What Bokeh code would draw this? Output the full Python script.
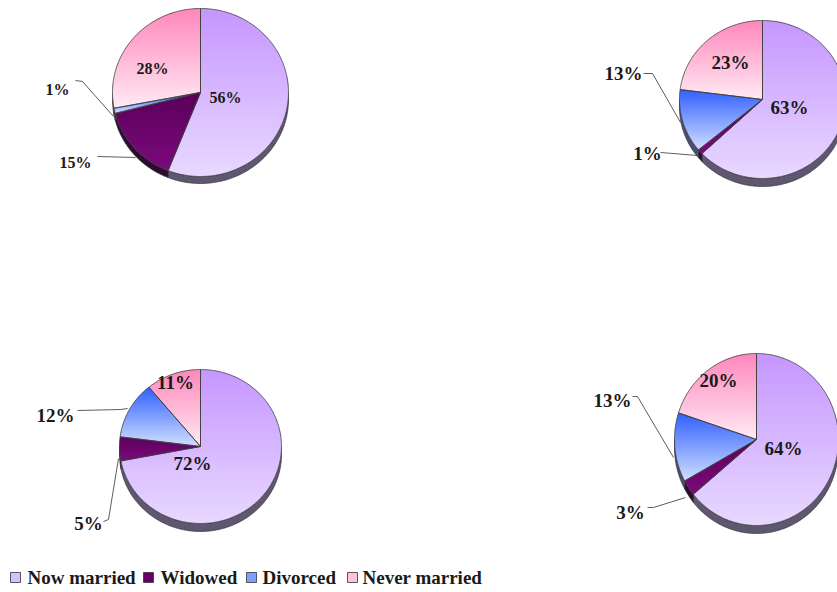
import numpy as np
from bokeh.plotting import figure
from bokeh.models import Range1d, ColumnDataSource
from bokeh.embed import file_html
from bokeh.resources import INLINE
from bokeh.core.properties import value

# ---------------- data ----------------
categories = ["Now married", "Widowed", "Divorced", "Never married"]
pie_top_left = [56, 15, 1, 28]
pie_top_right = [63, 1, 13, 23]
pie_bottom_left = [72, 5, 12, 11]
pie_bottom_right = [64, 3, 13, 20]

# ---------------- styles ----------------
top_colors = ["#c596ff", "#5a005a", "#2f5fff", "#ff86bb"]
bottom_colors = ["#e8d8ff", "#7c0a7c", "#d0deff", "#ffeaf3"]
side_colors = ["#5f5670", "#2d0a30", "#4a4f6e", "#6b5566"]
legend_colors = ["#d8c0ff", "#660066", "#7f9fff", "#ffc2dc"]
FONT = "Liberation Serif"
TXT = "#1a1a1a"

W, H = 837, 592


def X(ix):
    return ix


def Y(iy):
    return H - iy


# layout of each pie (image pixel coords), label placement per slice
pies = [
    dict(vals=pie_top_left, cx=200, cy=92, rx=88, ry=84, d=7, fs=16,
         labels=[((225, 97), None),
                 ((75, 162), [(97, 156), (135, 157)]),
                 ((57, 89), [(75, 80), (82, 81), (113, 116)]),
                 ((152, 68), None)]),
    dict(vals=pie_top_right, cx=762, cy=99, rx=83, ry=79, d=8, fs=19,
         labels=[((789, 107), None),
                 ((647, 153), [(660, 152), (697, 155)]),
                 ((623, 73), [(643, 73), (652, 73), (680, 122)]),
                 ((730, 62), None)]),
    dict(vals=pie_bottom_left, cx=200, cy=446, rx=81, ry=77, d=8, fs=19,
         labels=[((192, 463), None),
                 ((88, 523), [(103, 521), (108, 519), (118, 458)]),
                 ((55, 415), [(77, 410), (120, 409), (127, 408)]),
                 ((175, 382), None)]),
    dict(vals=pie_bottom_right, cx=756, cy=439, rx=82, ry=86, d=8, fs=19,
         labels=[((783, 448), None),
                 ((630, 512), [(647, 507), (653, 507), (685, 497)]),
                 ((612, 400), [(632, 396), (637, 396), (673, 457)]),
                 ((718, 380), None)]),
]


def hex2rgb(c):
    return [int(c[i:i + 2], 16) for i in (1, 3, 5)]


def lerp_color(c0, c1, t):
    a, b = hex2rgb(c0), hex2rgb(c1)
    return "#%02x%02x%02x" % tuple(int(round(a[k] + (b[k] - a[k]) * t)) for k in range(3))


def clip_half(poly, y0, keep_above):
    out = []
    n = len(poly)
    for i in range(n):
        P = poly[i]
        Q = poly[(i + 1) % n]
        pin = P[1] >= y0 if keep_above else P[1] <= y0
        qin = Q[1] >= y0 if keep_above else Q[1] <= y0
        if pin:
            out.append(P)
        if pin != qin:
            t = (y0 - P[1]) / (Q[1] - P[1])
            out.append((P[0] + t * (Q[0] - P[0]), y0))
    return out


p = figure(width=W, height=H, x_range=Range1d(0, W), y_range=Range1d(0, H),
           output_backend="svg", toolbar_location=None, min_border=0)
p.axis.visible = False
p.grid.visible = False
p.outline_line_color = None
p.background_fill_color = "white"
p.border_fill_color = "white"

side = dict(xs=[], ys=[], c=[])
band = dict(xs=[], ys=[], c=[])
edge = dict(xs=[], ys=[])
lead = dict(xs=[], ys=[])
txt = dict(x=[], y=[], t=[], fs=[])

for pie in pies:
    cx, cy = X(pie["cx"]), Y(pie["cy"])
    rx, ry, d = pie["rx"], pie["ry"], pie["d"]
    vals = np.array(pie["vals"], dtype=float)
    fr = vals / vals.sum()
    ends = np.pi / 2 - 2 * np.pi * np.cumsum(fr)
    starts = np.concatenate([[np.pi / 2], ends[:-1]])
    for k in range(len(vals)):
        a0, a1 = starts[k], ends[k]
        # side (front half: angles in [-pi, 0])
        hi, lo = min(a0, 0.0), max(a1, -np.pi)
        if hi > lo:
            aa = np.linspace(hi, lo, max(4, int((hi - lo) * 60)))
            sx = cx + rx * np.cos(aa)
            sy = cy + ry * np.sin(aa)
            side["xs"].append(list(sx) + list(sx[::-1]))
            side["ys"].append(list(sy) + list((sy - d)[::-1]))
            side["c"].append(side_colors[k])
        # top face wedge polygon
        aa = np.linspace(a0, a1, max(4, int((a0 - a1) * 80)))
        px = np.concatenate([[cx], cx + rx * np.cos(aa)])
        py = np.concatenate([[cy], cy + ry * np.sin(aa)])
        poly = list(zip(px, py))
        edge["xs"].append(list(px) + [cx])
        edge["ys"].append(list(py) + [cy])
        ymax, ymin = py.max(), py.min()
        nb = max(2, int((ymax - ymin) / 2.5))
        h = (ymax - ymin) / nb
        for b in range(nb):
            yh = ymax - b * h + 0.4
            yl = ymax - (b + 1) * h - 0.6
            q = clip_half(clip_half(poly, yl, True), yh, False)
            if len(q) < 3:
                continue
            band["xs"].append([v[0] for v in q])
            band["ys"].append([v[1] for v in q])
            band["c"].append(lerp_color(top_colors[k], bottom_colors[k], (b + 0.5) / nb))
        (tx, ty), ld = pie["labels"][k]
        txt["x"].append(X(tx))
        txt["y"].append(Y(ty))
        txt["t"].append("%d%%" % int(round(vals[k])))
        txt["fs"].append("%dpx" % pie["fs"])
        if ld:
            lead["xs"].append([X(v[0]) for v in ld])
            lead["ys"].append([Y(v[1]) for v in ld])

p.patches("xs", "ys", source=ColumnDataSource(side), fill_color="c",
          line_color="#3a3440", line_width=0.7)
p.patches("xs", "ys", source=ColumnDataSource(band), fill_color="c",
          line_color=None)
p.patches("xs", "ys", source=ColumnDataSource(edge), fill_color=None,
          line_color="#3c3c3c", line_width=0.8)
p.multi_line("xs", "ys", source=ColumnDataSource(lead), line_color="#333333",
             line_width=0.8)
p.text("x", "y", text="t", source=ColumnDataSource(txt), text_font=value(FONT),
       text_font_style="bold", text_font_size="fs", text_color=TXT,
       text_align="center", text_baseline="middle")

# legend
leg_sq_x = [15, 148, 251, 352]
leg_tx_x = [27, 160, 262, 362]
p.rect(x=[X(v) for v in leg_sq_x], y=[Y(577)] * 4, width=10, height=10,
       fill_color=legend_colors, line_color="#333333", line_width=0.8)
p.text(x=[X(v) for v in leg_tx_x], y=[Y(577)] * 4, text=categories,
       text_font=value(FONT), text_font_style="bold", text_font_size="19px",
       text_color=TXT, text_align="left", text_baseline="middle")

open("out.html", "w").write(file_html(p, INLINE))
